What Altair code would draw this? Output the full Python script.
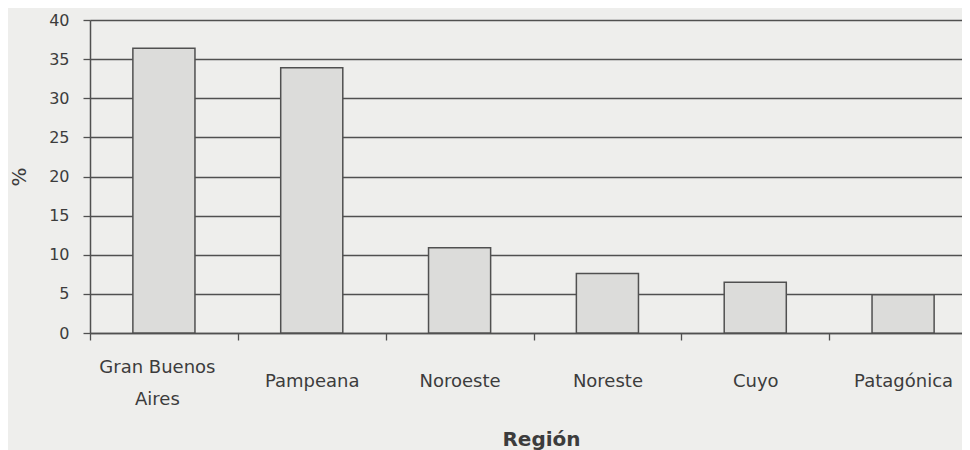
import altair as alt
import pandas as pd

# ---- data ----
regions = ["Gran Buenos Aires", "Pampeana", "Noroeste", "Noreste", "Cuyo", "Patagónica"]
percent = [36.4, 33.9, 10.9, 7.6, 6.5, 4.9]
y_ticks = [0, 5, 10, 15, 20, 25, 30, 35, 40]

df = pd.DataFrame({"region": regions, "pct": percent})

FONT = "DejaVu Sans"
TXT = "#3c3c3c"
LINE = "#505050"
BG = "#eeeeec"
IS_GBA = "datum.value == 'Gran Buenos Aires'"

x_axis = alt.Axis(
    title="Región",
    labelAngle=0,
    tickBand="extent",
    tickSize=7,
    tickColor=LINE,
    tickWidth=1.3,
    domainColor=LINE,
    domainWidth=1.5,
    grid=False,
    labelPadding={"condition": {"test": IS_GBA, "value": 27.5}, "value": 41},
    labelOffset={"condition": {"test": IS_GBA, "value": -7}, "value": 0},
    labelBaseline="middle",
    labelLineHeight=31.7,
    labelExpr="datum.value == 'Gran Buenos Aires' ? ['Gran Buenos', 'Aires'] : datum.label",
    labelFont=FONT,
    labelFontSize=18,
    labelColor=TXT,
    labelOverlap=False,
    labelLimit=0,
    titleFont=FONT,
    titleFontSize=20,
    titleFontWeight="bold",
    titleColor=TXT,
    titleX=451,
    titleY=112,
    titleAlign="center",
    titleBaseline="alphabetic",
)

y_axis = alt.Axis(
    title="%",
    values=y_ticks,
    tickSize=7,
    tickColor=LINE,
    tickWidth=1.3,
    domainColor=LINE,
    domainWidth=1.5,
    grid=True,
    gridColor=LINE,
    gridWidth=1.4,
    gridOpacity=1,
    labelPadding=14,
    labelFont=FONT,
    labelFontSize=16,
    labelColor=TXT,
    titleFont=FONT,
    titleFontSize=20,
    titleFontWeight="normal",
    titleColor=TXT,
    titleAngle=270,
    titleX=-71,
    titleY=156.5,
    titleAlign="center",
    titleBaseline="middle",
)

chart = (
    alt.Chart(df)
    .mark_bar(
        fill="#dcdcda",
        stroke=LINE,
        strokeWidth=1.5,
        opacity=1,
        width=alt.RelativeBandSize(0.42),
    )
    .encode(
        x=alt.X(
            "region:N",
            sort=regions,
            scale=alt.Scale(range=[0, 887], paddingInner=0, paddingOuter=0),
            axis=x_axis,
        ),
        y=alt.Y("pct:Q", scale=alt.Scale(domain=[0, 40], nice=False), axis=y_axis),
    )
    .properties(
        width=872,
        height=313,
        padding={"left": 82, "top": 12, "right": 0, "bottom": 117},
        autosize=alt.AutoSizeParams(type="none"),
        background=BG,
    )
    .configure_view(stroke=None)
)

chart.save("out.html", embed_options={"renderer": "svg", "actions": False})
